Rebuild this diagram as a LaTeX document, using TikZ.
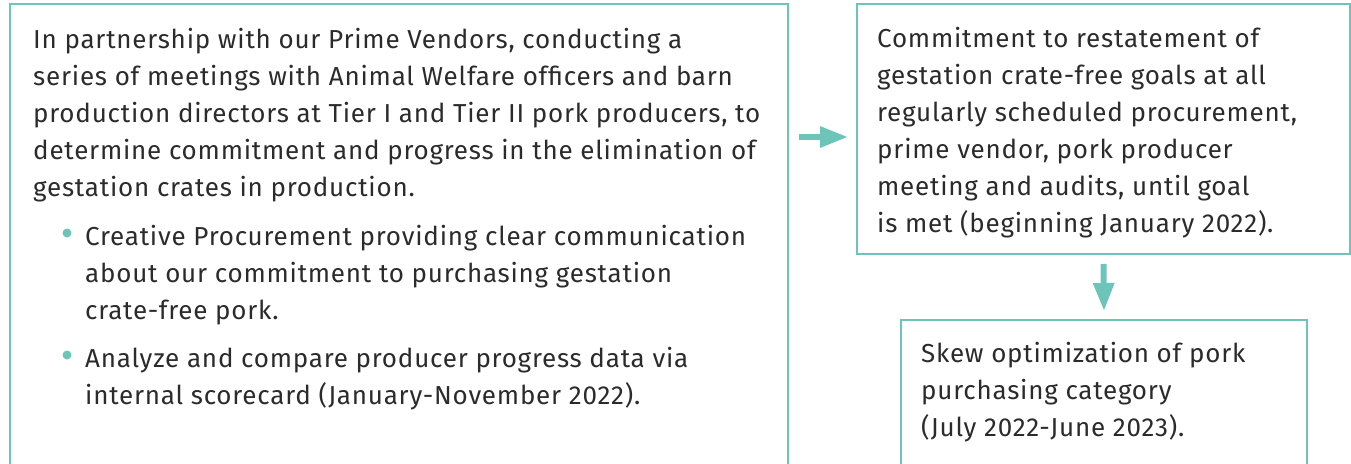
\documentclass[tikz,border=0pt]{standalone}
\usepackage{fontspec}
\setmainfont[LetterSpace=3]{Fira Sans}
\usetikzlibrary{arrows.meta,positioning}
\definecolor{boxline}{HTML}{6CC5B8}
\definecolor{bodytext}{HTML}{2B2B2B}
\tikzset{
	panel/.style={draw=boxline, line width=2pt, anchor=north west, inner sep=0pt},
	body/.style={anchor=north west, inner sep=0pt, align=left, text=bodytext,
		font=\fontsize{26}{37}\selectfont},
	dot/.style={circle, fill=boxline, inner sep=0pt, minimum size=9pt},
	flow/.style={draw=boxline, line width=6pt, -{Triangle[length=28pt,width=20pt]}},
}
\begin{document}
\begin{tikzpicture}[x=1pt,y=-1pt]
	\useasboundingbox (0,0) rectangle (1351,463);
	\clip (0,0) rectangle (1351,463);
	% frames, the lower ones run off the page
	\node[panel, minimum width=778pt, minimum height=500pt] (plan) at (9,3) {};
	\node[panel, minimum width=493pt, minimum height=250pt] (goal) at (856,3) {};
	\node[panel, minimum width=406pt, minimum height=200pt] (skew) at (900,319) {};
	% left frame
	\node[body] (intro) at (33,28) {In partnership with our Prime Vendors, conducting a\\
		series of meetings with Animal Welfare officers and barn\\
		production directors at Tier I and Tier II pork producers, to\\
		determine commitment and progress in the elimination of\\
		gestation crates in production.};
	\node[dot] (dotA) at (67,233) {};
	\node[body] (itemA) at (85,225) {Creative Procurement providing clear communication\\
		about our commitment to purchasing gestation\\
		crate-free pork.};
	\node[dot] (dotB) at (67,355) {};
	\node[body] (itemB) at (85,347) {Analyze and compare producer progress data via\\
		internal scorecard (January-November 2022).};
	% right frames
	\node[body] (goaltext) at (877,27) {Commitment to restatement of\\
		gestation crate-free goals at all\\
		regularly scheduled procurement,\\
		prime vendor, pork producer\\
		meeting and audits, until goal\\
		is met (beginning January 2022).};
	\node[body] (skewtext) at (921,342) {Skew optimization of pork\\
		purchasing category\\
		(July 2022-June 2023).};
	% arrows
	\draw[flow] ([xshift=10pt,yshift=-134pt]plan.north east) -- ([xshift=-8pt,yshift=-134pt]goal.north west);
	\draw[flow] ([yshift=-9pt]goal.south) -- ([yshift=8pt]skew.north);
\end{tikzpicture}
\end{document}
